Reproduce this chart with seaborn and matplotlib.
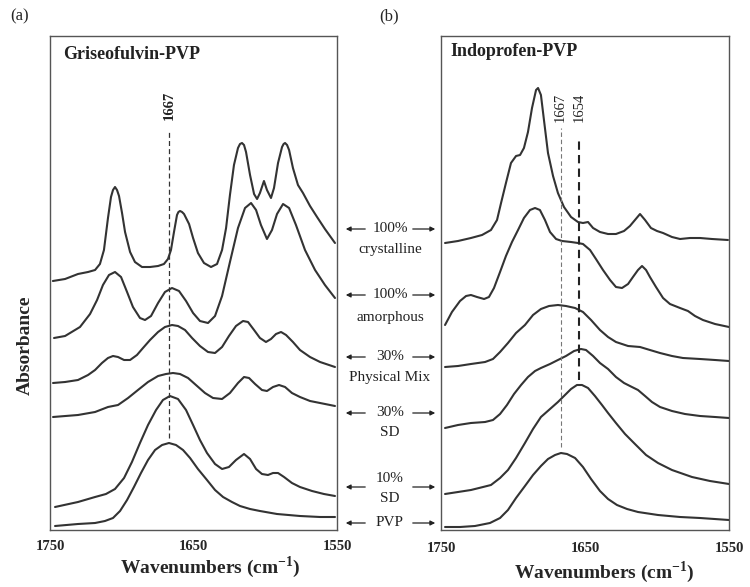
import matplotlib
matplotlib.use("Agg")
import matplotlib.pyplot as plt
from matplotlib.patches import FancyArrowPatch
import pandas as pd
import seaborn as sns

# ---------------- Griseofulvin-PVP (panel a) ----------------
gris_cryst_wn = [1748.0, 1739.5, 1730.5, 1723.5, 1718.6, 1715.2, 1712.4, 1709.6, 1707.5, 1706.1,
                 1704.7, 1703.3, 1701.9, 1699.8, 1697.7, 1694.2, 1690.8, 1685.9, 1680.3, 1674.7,
                 1670.6, 1667.8, 1665.7, 1663.6, 1661.5, 1660.5, 1659.4, 1658.0, 1656.6, 1653.1,
                 1650.3, 1646.9, 1642.7, 1637.8, 1633.6, 1630.1, 1627.3, 1624.6, 1621.8, 1619.0,
                 1617.6, 1616.2, 1614.8, 1613.4, 1610.6, 1607.8, 1605.7, 1603.7, 1600.9, 1598.8,
                 1596.0, 1593.9, 1591.1, 1588.3, 1587.2, 1586.2, 1584.8, 1583.4, 1580.7, 1577.2,
                 1573.7, 1568.8, 1563.9, 1558.4, 1551.4]
gris_cryst_abs = [2.49, 2.51, 2.56, 2.58, 2.60, 2.66, 2.80, 3.12, 3.33, 3.40,
                  3.43, 3.40, 3.34, 3.17, 2.98, 2.78, 2.68, 2.63, 2.63, 2.64,
                  2.66, 2.71, 2.80, 2.98, 3.15, 3.18, 3.19, 3.18, 3.16, 3.06,
                  2.92, 2.77, 2.67, 2.63, 2.66, 2.80, 3.02, 3.35, 3.65, 3.82,
                  3.86, 3.87, 3.85, 3.78, 3.55, 3.36, 3.31, 3.37, 3.49, 3.40,
                  3.32, 3.42, 3.67, 3.83, 3.86, 3.87, 3.85, 3.80, 3.62, 3.45,
                  3.37, 3.24, 3.13, 3.01, 2.87]

gris_amor_wn = [1747.2, 1739.5, 1729.1, 1722.1, 1717.2, 1713.1, 1708.9, 1704.7, 1700.5, 1696.3,
                1692.2, 1687.3, 1683.8, 1679.6, 1674.7, 1669.9, 1665.0, 1660.1, 1655.2, 1650.3,
                1645.5, 1639.9, 1635.0, 1630.1, 1624.6, 1619.0, 1614.1, 1609.9, 1606.4, 1603.0,
                1598.8, 1595.3, 1591.8, 1587.6, 1583.4, 1578.6, 1572.3, 1565.3, 1558.4, 1551.4]
gris_amor_abs = [1.92, 1.94, 2.03, 2.16, 2.30, 2.45, 2.55, 2.58, 2.53, 2.38,
                 2.23, 2.12, 2.10, 2.14, 2.27, 2.38, 2.42, 2.39, 2.29, 2.17,
                 2.09, 2.07, 2.14, 2.34, 2.68, 3.02, 3.22, 3.27, 3.20, 3.05,
                 2.91, 3.00, 3.16, 3.26, 3.22, 3.05, 2.80, 2.60, 2.45, 2.32]

gris_pm_wn = [1747.9, 1739.5, 1730.5, 1723.5, 1718.6, 1713.8, 1709.6, 1706.1, 1702.6, 1698.4,
              1694.2, 1689.4, 1685.2, 1680.3, 1674.7, 1669.9, 1665.0, 1660.8, 1655.9, 1651.0,
              1645.5, 1639.9, 1635.0, 1630.1, 1625.3, 1620.4, 1615.5, 1612.0, 1607.8, 1603.7,
              1599.5, 1596.0, 1592.5, 1589.0, 1585.5, 1580.7, 1575.8, 1568.8, 1561.8, 1551.4]
gris_pm_abs = [1.47, 1.48, 1.50, 1.55, 1.60, 1.67, 1.72, 1.74, 1.73, 1.70,
               1.70, 1.75, 1.82, 1.90, 1.98, 2.03, 2.05, 2.04, 2.00, 1.92,
               1.84, 1.78, 1.77, 1.83, 1.94, 2.04, 2.09, 2.08, 2.00, 1.92,
               1.88, 1.91, 1.96, 1.98, 1.95, 1.88, 1.80, 1.73, 1.68, 1.63]

gris_sd30_wn = [1747.9, 1730.5, 1718.6, 1709.6, 1702.6, 1695.6, 1688.7, 1681.7, 1674.7, 1669.2,
                1664.3, 1659.4, 1653.8, 1648.3, 1642.0, 1636.4, 1630.1, 1624.6, 1619.0, 1614.8,
                1611.3, 1607.1, 1602.3, 1598.8, 1594.6, 1590.4, 1586.2, 1581.4, 1575.8, 1568.8,
                1561.8, 1551.4]
gris_sd30_abs = [1.13, 1.15, 1.18, 1.23, 1.25, 1.32, 1.40, 1.48, 1.54, 1.56,
                 1.57, 1.56, 1.52, 1.45, 1.37, 1.32, 1.31, 1.37, 1.47, 1.53,
                 1.52, 1.46, 1.40, 1.39, 1.43, 1.45, 1.43, 1.37, 1.33, 1.29,
                 1.27, 1.24]

gris_sd10_wn = [1746.5, 1730.5, 1718.6, 1711.0, 1704.7, 1698.4, 1692.9, 1687.3, 1681.7, 1676.1,
                1671.3, 1666.4, 1660.8, 1655.2, 1650.3, 1645.5, 1640.6, 1635.0, 1630.1, 1625.3,
                1620.4, 1614.8, 1610.6, 1606.4, 1602.3, 1598.1, 1594.6, 1591.1, 1586.9, 1581.4,
                1575.8, 1567.4, 1559.1, 1551.4]
gris_sd10_abs = [0.23, 0.28, 0.33, 0.36, 0.41, 0.52, 0.68, 0.87, 1.05, 1.20,
                 1.30, 1.34, 1.31, 1.20, 1.05, 0.90, 0.77, 0.66, 0.61, 0.63,
                 0.70, 0.76, 0.71, 0.61, 0.56, 0.55, 0.57, 0.57, 0.53, 0.47,
                 0.43, 0.39, 0.36, 0.34]

gris_pvp_wn = [1746.5, 1730.5, 1718.6, 1711.7, 1706.1, 1701.2, 1696.3, 1691.5, 1686.6, 1681.7,
               1676.8, 1671.9, 1667.1, 1662.2, 1657.3, 1652.4, 1646.9, 1640.6, 1635.0, 1629.4,
               1623.2, 1617.6, 1610.6, 1603.7, 1591.8, 1575.8, 1561.8, 1551.4]
gris_pvp_abs = [0.04, 0.06, 0.07, 0.09, 0.12, 0.19, 0.30, 0.43, 0.57, 0.70,
                0.80, 0.85, 0.87, 0.85, 0.80, 0.72, 0.61, 0.50, 0.40, 0.33,
                0.28, 0.24, 0.21, 0.19, 0.16, 0.14, 0.13, 0.13]

# ---------------- Indoprofen-PVP (panel b) ----------------
indo_cryst_wn = [1747.2, 1738.2, 1729.2, 1721.5, 1715.3, 1711.1, 1708.3, 1704.9, 1701.4, 1697.9,
                 1695.1, 1692.4, 1689.6, 1686.8, 1684.0, 1682.6, 1680.6, 1678.5, 1675.7, 1672.2,
                 1668.8, 1664.6, 1659.7, 1654.9, 1651.4, 1647.9, 1644.4, 1639.6, 1634.0, 1628.5,
                 1622.9, 1618.8, 1615.3, 1611.8, 1608.3, 1604.2, 1600.0, 1595.8, 1589.6, 1584.0,
                 1577.1, 1570.1, 1561.8, 1550.7]
indo_cryst_abs = [2.87, 2.89, 2.92, 2.95, 3.00, 3.10, 3.27, 3.47, 3.67, 3.74,
                  3.75, 3.82, 3.98, 4.22, 4.40, 4.42, 4.35, 4.10, 3.77, 3.54,
                  3.37, 3.23, 3.13, 3.08, 3.07, 3.08, 3.02, 2.98, 2.96, 2.96,
                  2.99, 3.04, 3.10, 3.16, 3.10, 3.02, 2.99, 2.97, 2.93, 2.91,
                  2.92, 2.92, 2.91, 2.90]

indo_amor_wn = [1747.2, 1742.4, 1736.8, 1732.6, 1729.2, 1725.0, 1720.1, 1716.7, 1713.2, 1709.0,
                1704.9, 1700.7, 1696.5, 1692.4, 1688.2, 1684.7, 1681.3, 1677.8, 1674.3, 1670.1,
                1666.0, 1659.7, 1654.9, 1651.4, 1646.5, 1642.4, 1637.5, 1632.6, 1628.5, 1624.3,
                1620.1, 1616.7, 1613.2, 1610.4, 1607.6, 1604.9, 1600.7, 1595.8, 1591.0, 1584.0,
                1578.5, 1573.6, 1568.1, 1559.7, 1550.0]
indo_amor_abs = [2.05, 2.18, 2.29, 2.34, 2.35, 2.33, 2.31, 2.33, 2.42, 2.58,
                 2.74, 2.88, 3.00, 3.12, 3.20, 3.22, 3.20, 3.10, 2.98, 2.91,
                 2.89, 2.88, 2.87, 2.86, 2.80, 2.71, 2.60, 2.50, 2.43, 2.42,
                 2.46, 2.53, 2.60, 2.64, 2.60, 2.53, 2.43, 2.32, 2.26, 2.22,
                 2.19, 2.14, 2.10, 2.06, 2.03]

indo_pm_wn = [1747.2, 1738.2, 1729.2, 1719.4, 1713.9, 1709.0, 1703.5, 1697.9, 1691.7, 1686.1,
              1680.6, 1675.0, 1668.8, 1663.2, 1656.9, 1651.4, 1645.8, 1639.6, 1634.0, 1628.5,
              1620.1, 1611.8, 1604.9, 1597.9, 1589.6, 1582.0, 1570.1, 1559.7, 1550.0]
indo_pm_abs = [1.63, 1.64, 1.66, 1.68, 1.71, 1.78, 1.87, 1.97, 2.05, 2.15,
               2.21, 2.24, 2.25, 2.24, 2.22, 2.18, 2.10, 2.00, 1.93, 1.88,
               1.84, 1.83, 1.80, 1.77, 1.74, 1.72, 1.71, 1.70, 1.69]

indo_sd30_wn = [1747.2, 1738.2, 1729.2, 1719.4, 1713.9, 1709.0, 1704.2, 1699.3, 1694.4, 1689.6,
                1684.7, 1680.6, 1674.3, 1668.8, 1663.2, 1657.6, 1652.8, 1649.3, 1644.4, 1639.6,
                1634.0, 1628.5, 1622.9, 1617.4, 1613.2, 1608.3, 1603.5, 1597.9, 1589.6, 1580.6,
                1570.1, 1559.7, 1550.0]
indo_sd30_abs = [1.02, 1.05, 1.07, 1.08, 1.10, 1.16, 1.25, 1.36, 1.45, 1.53,
                 1.59, 1.62, 1.66, 1.70, 1.74, 1.79, 1.81, 1.80, 1.74, 1.67,
                 1.61, 1.53, 1.47, 1.43, 1.40, 1.34, 1.28, 1.23, 1.19, 1.16,
                 1.14, 1.13, 1.12]

indo_sd10_wn = [1747.2, 1738.2, 1729.2, 1720.8, 1715.3, 1709.0, 1703.5, 1697.9, 1691.7, 1686.1,
                1680.6, 1674.3, 1668.8, 1663.9, 1659.7, 1655.6, 1652.1, 1647.9, 1643.1, 1638.2,
                1634.0, 1628.5, 1622.2, 1615.3, 1607.6, 1599.3, 1589.6, 1575.7, 1563.2, 1550.0]
indo_sd10_abs = [0.36, 0.38, 0.40, 0.43, 0.45, 0.52, 0.60, 0.72, 0.87, 1.01,
                 1.13, 1.21, 1.28, 1.35, 1.41, 1.45, 1.45, 1.42, 1.34, 1.25,
                 1.17, 1.07, 0.96, 0.86, 0.75, 0.67, 0.60, 0.53, 0.49, 0.46]

indo_pvp_wn = [1747.2, 1736.8, 1726.4, 1716.0, 1709.0, 1703.5, 1697.9, 1691.7, 1686.1, 1680.6,
               1675.7, 1670.8, 1666.7, 1662.5, 1656.9, 1651.4, 1645.8, 1639.6, 1634.0, 1627.8,
               1620.8, 1613.2, 1599.3, 1584.0, 1570.1, 1550.0]
indo_pvp_abs = [0.03, 0.03, 0.04, 0.07, 0.12, 0.20, 0.32, 0.44, 0.55, 0.64,
                0.71, 0.75, 0.77, 0.76, 0.72, 0.63, 0.51, 0.39, 0.31, 0.25,
                0.21, 0.18, 0.15, 0.13, 0.12, 0.10]

# sample names (top to bottom) shared by both panels
sample_names = ["100% crystalline", "100% amorphous", "30% Physical Mix",
                "30% SD", "10% SD", "PVP"]
sample_labels = [("100%", "crystalline"), ("100%", "amorphous"), ("30%", "Physical Mix"),
                 ("30%", "SD"), ("10%", "SD"), ("PVP", None)]

# reference band positions (cm-1)
marker_wn_a = [1667]
marker_wn_b = [1667, 1654]


def build_frame(pairs):
    frames = []
    for name, (wn, ab) in zip(sample_names, pairs):
        frames.append(pd.DataFrame({"wavenumber": wn, "absorbance": ab, "sample": name}))
    return pd.concat(frames, ignore_index=True)


df_a = build_frame([(gris_cryst_wn, gris_cryst_abs), (gris_amor_wn, gris_amor_abs),
                    (gris_pm_wn, gris_pm_abs), (gris_sd30_wn, gris_sd30_abs),
                    (gris_sd10_wn, gris_sd10_abs), (gris_pvp_wn, gris_pvp_abs)])
df_b = build_frame([(indo_cryst_wn, indo_cryst_abs), (indo_amor_wn, indo_amor_abs),
                    (indo_pm_wn, indo_pm_abs), (indo_sd30_wn, indo_sd30_abs),
                    (indo_sd10_wn, indo_sd10_abs), (indo_pvp_wn, indo_pvp_abs)])

sns.set_style("white")
plt.rcParams["font.family"] = ["Liberation Serif", "DejaVu Serif"]
plt.rcParams["mathtext.fontset"] = "custom"
plt.rcParams["mathtext.rm"] = "Liberation Serif"
plt.rcParams["mathtext.bf"] = "Liberation Serif:bold"

W, H = 750, 587
fig = plt.figure(figsize=(W / 100, H / 100), dpi=100)


def fx(px):
    return px / W


def fy(py):
    return 1 - py / H


INK = "#333333"
ax_a = fig.add_axes([fx(50), fy(530), 287 / W, 494 / H])
ax_b = fig.add_axes([fx(441), fy(530), 288 / W, 494 / H])

for ax, df, pad in ((ax_a, df_a, 7), (ax_b, df_b, 9)):
    sns.lineplot(data=df, x="wavenumber", y="absorbance", units="sample",
                 estimator=None, sort=False, color=INK, lw=1.5, ax=ax)
    ax.set_xlim(1750, 1550)
    ax.set_ylim(0, 4.94)
    ax.set_xticks([1750, 1650, 1550])
    ax.set_xticklabels(["1750", "1650", "1550"], fontweight="bold", fontsize=10.5)
    ax.set_yticks([])
    ax.tick_params(axis="x", direction="in", length=3, pad=pad, color=INK)
    for s in ax.spines.values():
        s.set_color("#555555")
        s.set_linewidth(1.0)
    ax.set_ylabel("")
    ax.set_xlabel("Wavenumbers (cm$^{\\mathbf{-1}}$)", fontweight="bold", fontsize=14)
    ax.xaxis.label.set_va("center")

ax_a.xaxis.set_label_coords((210 - 50) / 287, (530 - 567) / 494)
ax_b.xaxis.set_label_coords((604 - 441) / 288, (530 - 572) / 494)
ax_a.set_ylabel("Absorbance", fontweight="bold", fontsize=14)
ax_a.yaxis.label.set_va("center")
ax_a.yaxis.set_label_coords((25 - 50) / 287, (530 - 345) / 494)

# panel titles
ax_a.text(0.045, 0.962, "Griseofulvin-PVP", transform=ax_a.transAxes,
          ha="left", va="center", fontsize=13, fontweight="bold", color="#222222")
ax_b.text(0.031, 0.968, "Indoprofen-PVP", transform=ax_b.transAxes,
          ha="left", va="center", fontsize=13, fontweight="bold", color="#222222")
fig.text(fx(20), fy(16), "(a)", ha="center", va="center", fontsize=12)
fig.text(fx(389), fy(16), "(b)", ha="center", va="center", fontsize=12)

# dashed guides at the reference band positions
ax_a.vlines(marker_wn_a[0], 0.92, 3.99, colors=INK, linestyles=(0, (4, 2.5)), lw=0.9)
ax_a.text(marker_wn_a[0], 4.25, str(marker_wn_a[0]), rotation=90, ha="center", va="center",
          fontsize=10.5, fontweight="bold", color="#222222")
ax_b.vlines(marker_wn_b[0], 0.83, 4.02, colors="#777777", linestyles=(0, (4, 2.5)), lw=0.8)
ax_b.vlines(marker_wn_b[1], 1.50, 3.93, colors="#222222", linestyles=(0, (4, 2.5)), lw=1.5)
for wn in marker_wn_b:
    ax_b.text(wn, 4.23, str(wn), rotation=90, ha="center", va="center",
              fontsize=10.5, color="#222222")

# sample labels between the panels, with arrows pointing to both spectra
label_rows = [(229, 250, 229), (295, 317, 295), (357, 377, 357),
              (413, 433, 413), (478, 498, 487), (523, None, 523)]
for (top, sub), (y1, y2, ya) in zip(sample_labels, label_rows):
    fig.text(fx(390), fy(y1), top, ha="center", va="center", fontsize=11, color="#222222")
    if sub:
        fig.text(fx(390), fy(y2), sub, ha="center", va="center", fontsize=11, color="#222222")
    for x0, x1 in ((368, 343), (410, 438)):
        fig.add_artist(FancyArrowPatch((fx(x0), fy(ya)), (fx(x1), fy(ya)),
                                       transform=fig.transFigure, arrowstyle="-|>",
                                       mutation_scale=7, lw=0.9, color="#222222"))

fig.savefig("out.png", dpi=100, facecolor="white")
